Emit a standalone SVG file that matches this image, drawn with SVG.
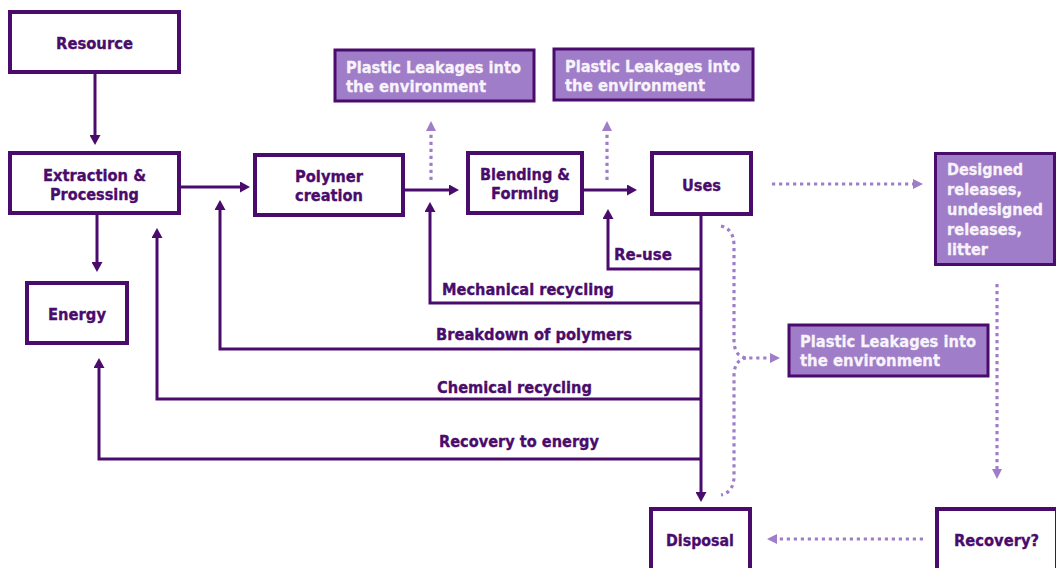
<svg xmlns="http://www.w3.org/2000/svg" width="1056" height="568" viewBox="0 0 1056 568">
<style>
  .box { fill: #ffffff; stroke: #4a0c6c; stroke-width: 4; }
  .leak { fill: #a07dc8; stroke: #4a0c6c; stroke-width: 3; }
  .t { font-family: "DejaVu Sans", "Liberation Sans", sans-serif; font-weight: bold; font-size: 16.5px; fill: #4a0c6c; stroke: #4a0c6c; stroke-width: 0.35px; }
  .w { font-family: "DejaVu Sans", "Liberation Sans", sans-serif; font-weight: bold; font-size: 16.5px; fill: #f7f3fb; stroke: #f7f3fb; stroke-width: 0.3px; }
  .c { fill: none; stroke: #4a0c6c; stroke-width: 3; }
  .d { fill: none; stroke: #a07dc8; stroke-width: 3.2; stroke-dasharray: 3.2 3.8; }
</style>
<defs>
  <marker id="ad" markerUnits="userSpaceOnUse" markerWidth="11" markerHeight="11" refX="4" refY="5.5" orient="auto">
    <path d="M0,0 L10,5.5 L0,11 Z" fill="#4a0c6c"/>
  </marker>
  <marker id="al" markerUnits="userSpaceOnUse" markerWidth="11" markerHeight="11" refX="4" refY="5.5" orient="auto">
    <path d="M0,0.5 L10,5.5 L0,10.5 Z" fill="#a07dc8"/>
  </marker>
</defs>

<g id="connectors">
  <path class="c" d="M95,74 V139" marker-end="url(#ad)"/>
  <path class="c" d="M181,187 H244" marker-end="url(#ad)"/>
  <path class="c" d="M97,215 V266" marker-end="url(#ad)"/>
  <path class="c" d="M405,190 H453" marker-end="url(#ad)"/>
  <path class="c" d="M584,190 H631" marker-end="url(#ad)"/>
  <path class="c" d="M701,216 V496" marker-end="url(#ad)"/>
  <path class="c" d="M701,269 H608 V215" marker-end="url(#ad)"/>
  <path class="c" d="M701,303 H430 V208" marker-end="url(#ad)"/>
  <path class="c" d="M701,349 H220 V206" marker-end="url(#ad)"/>
  <path class="c" d="M701,399 H157 V234" marker-end="url(#ad)"/>
  <path class="c" d="M701,459 H99 V364" marker-end="url(#ad)"/>

  <path class="d" d="M431,180 V127" marker-end="url(#al)"/>
  <path class="d" d="M607,180 V127" marker-end="url(#al)"/>
  <path class="d" d="M772,184 H917" marker-end="url(#al)"/>
  <path class="d" d="M997,284 V473" marker-end="url(#al)"/>
  <path class="d" d="M923,539 H773" marker-end="url(#al)"/>
  <path class="d" d="M721,226 Q734,229 734,246 L734,340 Q734,356 746,358 L774,358" marker-end="url(#al)"/>
  <path class="d" d="M746,358 Q734,360 734,376 L734,476 Q734,492 721,495"/>
</g>

<g id="resource">
  <rect class="box" x="10" y="12" width="169" height="60"/>
  <text class="t" x="56" y="49" textLength="77" lengthAdjust="spacingAndGlyphs">Resource</text>
</g>
<g id="extraction">
  <rect class="box" x="10" y="153" width="169" height="60"/>
  <text class="t" x="43" y="180.5" textLength="103" lengthAdjust="spacingAndGlyphs">Extraction &amp;</text>
  <text class="t" x="50" y="200" textLength="89" lengthAdjust="spacingAndGlyphs">Processing</text>
</g>
<g id="energy">
  <rect class="box" x="27" y="283" width="100" height="60"/>
  <text class="t" x="48" y="319.5" textLength="58" lengthAdjust="spacingAndGlyphs">Energy</text>
</g>
<g id="polymer">
  <rect class="box" x="255" y="155" width="148" height="60"/>
  <text class="t" x="295" y="182" textLength="68" lengthAdjust="spacingAndGlyphs">Polymer</text>
  <text class="t" x="295" y="200.5" textLength="68" lengthAdjust="spacingAndGlyphs">creation</text>
</g>
<g id="blending">
  <rect class="box" x="468" y="153" width="114" height="60"/>
  <text class="t" x="480" y="180" textLength="90" lengthAdjust="spacingAndGlyphs">Blending &amp;</text>
  <text class="t" x="491" y="199" textLength="68" lengthAdjust="spacingAndGlyphs">Forming</text>
</g>
<g id="uses">
  <rect class="box" x="652" y="153" width="99" height="61"/>
  <text class="t" x="682" y="190.5" textLength="39" lengthAdjust="spacingAndGlyphs">Uses</text>
</g>
<g id="leak1">
  <rect class="leak" x="335" y="50" width="199" height="51"/>
  <text class="w" x="346" y="72.5" textLength="175" lengthAdjust="spacingAndGlyphs">Plastic Leakages into</text>
  <text class="w" x="346" y="91.5" textLength="140" lengthAdjust="spacingAndGlyphs">the environment</text>
</g>
<g id="leak2">
  <rect class="leak" x="554" y="49" width="199" height="51"/>
  <text class="w" x="565" y="72" textLength="175" lengthAdjust="spacingAndGlyphs">Plastic Leakages into</text>
  <text class="w" x="565" y="91" textLength="140" lengthAdjust="spacingAndGlyphs">the environment</text>
</g>
<g id="designed">
  <rect class="leak" x="935.5" y="153.5" width="119" height="111" stroke-width="4"/>
  <text class="w" x="947" y="174.5" textLength="76" lengthAdjust="spacingAndGlyphs">Designed</text>
  <text class="w" x="947" y="194.5" textLength="75" lengthAdjust="spacingAndGlyphs">releases,</text>
  <text class="w" x="947" y="214.5" textLength="96" lengthAdjust="spacingAndGlyphs">undesigned</text>
  <text class="w" x="947" y="234.5" textLength="75" lengthAdjust="spacingAndGlyphs">releases,</text>
  <text class="w" x="947" y="254.5" textLength="41" lengthAdjust="spacingAndGlyphs">litter</text>
</g>
<g id="leak3">
  <rect class="leak" x="789" y="325" width="199" height="51"/>
  <text class="w" x="800" y="347" textLength="176" lengthAdjust="spacingAndGlyphs">Plastic Leakages into</text>
  <text class="w" x="800" y="366" textLength="140" lengthAdjust="spacingAndGlyphs">the environment</text>
</g>
<g id="labels">
  <text class="t" x="614" y="260" textLength="58" lengthAdjust="spacingAndGlyphs">Re-use</text>
  <text class="t" x="442" y="295" textLength="172" lengthAdjust="spacingAndGlyphs">Mechanical recycling</text>
  <text class="t" x="436" y="340" textLength="196" lengthAdjust="spacingAndGlyphs">Breakdown of polymers</text>
  <text class="t" x="437" y="392.5" textLength="155" lengthAdjust="spacingAndGlyphs">Chemical recycling</text>
  <text class="t" x="439" y="446.5" textLength="160" lengthAdjust="spacingAndGlyphs">Recovery to energy</text>
</g>
<g id="disposal">
  <rect class="box" x="651" y="509" width="99" height="70"/>
  <text class="t" x="666" y="545.5" textLength="68" lengthAdjust="spacingAndGlyphs">Disposal</text>
</g>
<g id="recovery">
  <rect class="box" x="937" y="509" width="120" height="70"/>
  <text class="t" x="954" y="545.5" textLength="85" lengthAdjust="spacingAndGlyphs">Recovery?</text>
</g>
</svg>
